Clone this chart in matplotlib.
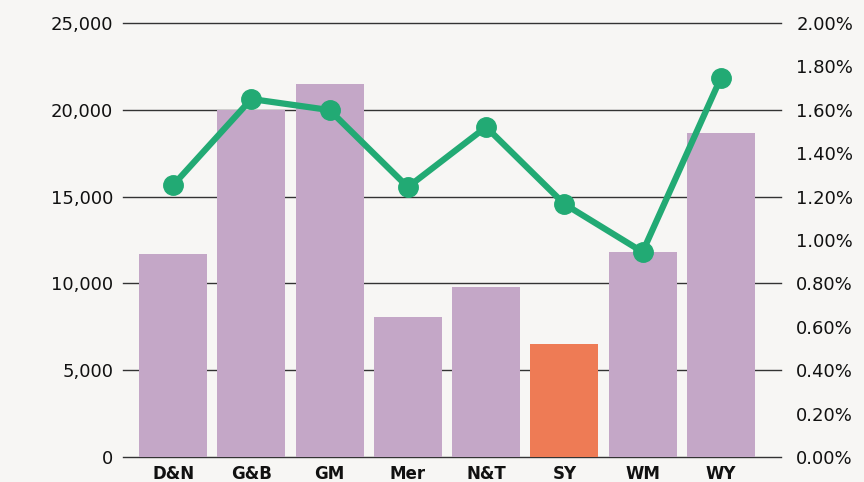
import numpy as np
import matplotlib.pyplot as plt
from matplotlib.ticker import FuncFormatter

regions = ["D&N", "G&B", "GM", "Mer", "N&T", "SY", "WM", "WY"]
counts = [11700, 20000, 21500, 8070, 9800, 6500, 11800, 18650]
rates = [1.253, 1.650, 1.599, 1.244, 1.521, 1.166, 0.945, 1.747]  # percent
highlight = "SY"

BG = "#F7F6F4"
BAR = "#C4A7C7"
HI = "#EE7B55"
LINE = "#22AA74"

plt.rcParams['font.family'] = ['DejaVu Sans']

fig = plt.figure(figsize=(8.64, 4.82), dpi=100, facecolor=BG)
ax = fig.add_axes([0.1424, 0.0519, 0.7616, 0.9002])
ax.set_facecolor(BG)

x = np.arange(len(regions))
colors = [HI if r == highlight else BAR for r in regions]
ax.bar(x, counts, width=0.87, color=colors, zorder=2)
ax.set_ylim(0, 25000)
ax.set_yticks(np.arange(0, 25001, 5000))
ax.yaxis.set_major_formatter(FuncFormatter(lambda v, p: f"{int(v):,}"))
ax.grid(axis='y', color='#333333', linewidth=1.0, zorder=0)
ax.set_axisbelow(True)
for gl in ax.get_ygridlines():
    gl.set_clip_on(False)
ax.set_xlim(-0.64, 7.77)
ax.set_xticks(x)
ax.set_xticklabels(regions, fontweight='bold', fontsize=12)
ax.tick_params(axis='both', length=0, labelsize=13, colors='#111111')
ax.tick_params(axis='y', pad=7)
ax.tick_params(axis='x', pad=6, labelsize=12)
for s in ax.spines.values():
    s.set_visible(False)

ax2 = ax.twinx()
ax2.plot(x, rates, color=LINE, linewidth=4.5, marker='o', markersize=14, zorder=3)
ax2.set_ylim(0, 2.0)
ax2.set_yticks(np.arange(0, 2.01, 0.2))
ax2.yaxis.set_major_formatter(FuncFormatter(lambda v, p: f"{v:.2f}%"))
ax2.tick_params(axis='y', length=0, labelsize=13, colors='#111111', pad=11)
for s in ax2.spines.values():
    s.set_visible(False)

fig.savefig("out.png", dpi=100, facecolor=BG)
